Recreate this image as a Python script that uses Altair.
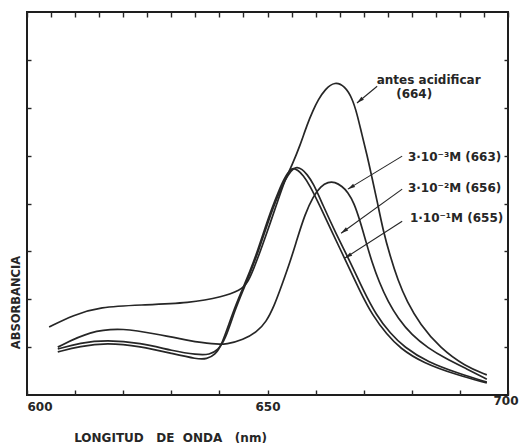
import math
import altair as alt
import pandas as pd

# ---- data (wavelength nm, absorbance) ----
nm_antes = [604.6, 609.6, 615.2, 623.5, 633.9, 640.7, 644.3, 645.9, 648.0, 649.9, 652.0, 653.6,
            655.1, 656.8, 658.2, 659.5, 660.5, 662.0, 664.0, 666.1, 667.6, 668.6, 669.6, 670.7,
            671.7, 672.8, 674.0, 675.5, 677.1, 679.0, 681.7, 685.9, 691.1, 695.6]
abs_antes = [0.142, 0.167, 0.184, 0.188, 0.192, 0.205, 0.219, 0.232, 0.286, 0.340, 0.401, 0.449,
             0.480, 0.522, 0.564, 0.595, 0.616, 0.639, 0.655, 0.645, 0.620, 0.588, 0.545, 0.501,
             0.455, 0.405, 0.345, 0.290, 0.240, 0.195, 0.148, 0.098, 0.060, 0.042]

nm_3e3 = [606.4, 613.1, 620.0, 627.0, 633.9, 638.7, 641.6, 644.9, 647.8, 649.7, 651.4, 653.0,
          654.7, 656.1, 657.8, 659.5, 661.1, 662.6, 664.0, 665.5, 666.7, 668.0, 669.2, 670.5,
          671.7, 673.2, 675.1, 677.1, 680.0, 683.4, 686.9, 691.5, 695.6]
abs_3e3 = [0.100, 0.134, 0.140, 0.127, 0.113, 0.106, 0.106, 0.115, 0.132, 0.152, 0.186, 0.230,
           0.278, 0.324, 0.378, 0.415, 0.436, 0.445, 0.445, 0.436, 0.424, 0.401, 0.365, 0.319,
           0.278, 0.236, 0.194, 0.161, 0.125, 0.098, 0.077, 0.054, 0.033]

nm_3e2 = [606.4, 611.0, 616.6, 623.5, 630.4, 635.3, 638.0, 639.7, 641.2, 643.2, 645.1, 646.8,
          648.4, 649.9, 651.4, 652.8, 654.3, 655.5, 656.1, 657.2, 658.2, 659.5, 661.5, 664.2,
          667.2, 669.9, 672.6, 675.5, 678.4, 683.2, 690.0, 695.6]
abs_3e2 = [0.096, 0.109, 0.115, 0.109, 0.092, 0.084, 0.084, 0.094, 0.115, 0.177, 0.223, 0.265,
           0.309, 0.355, 0.397, 0.432, 0.461, 0.474, 0.476, 0.472, 0.461, 0.443, 0.397, 0.338,
           0.278, 0.219, 0.167, 0.129, 0.100, 0.069, 0.044, 0.027]

nm_1e1 = [606.4, 611.0, 616.6, 623.5, 630.4, 635.3, 637.4, 639.1, 640.5, 642.8, 644.7, 646.4,
          648.0, 649.5, 650.9, 652.4, 653.6, 654.7, 655.3, 656.3, 657.4, 658.8, 660.9, 663.6,
          666.5, 669.2, 671.9, 674.8, 677.5, 682.3, 689.4, 695.6]
abs_1e1 = [0.090, 0.102, 0.109, 0.102, 0.086, 0.075, 0.075, 0.084, 0.104, 0.173, 0.219, 0.259,
           0.303, 0.349, 0.390, 0.428, 0.455, 0.470, 0.474, 0.470, 0.459, 0.438, 0.395, 0.336,
           0.276, 0.217, 0.165, 0.127, 0.098, 0.067, 0.042, 0.025]

# annotation arrows (start near label -> tip on curve)
arrow_x = [672.8, 678.0, 678.0, 678.0]
arrow_y = [0.645, 0.499, 0.430, 0.363]
arrow_x2 = [668.6, 666.7, 665.3, 666.1]
arrow_y2 = [0.610, 0.430, 0.338, 0.286]

# annotation labels
center_labels = ["antes acidificar", "(664)"]
center_x = [683.5, 680.5]
center_y = [0.658, 0.628]
left_labels = ["3·10⁻³M (663)", "3·10⁻²M (656)", "1·10⁻¹M (655)"]
left_x = [679.2, 679.2, 679.6]
left_y = [0.497, 0.432, 0.370]

x_ticks = list(range(600, 701, 5))
y_ticks = [0.1, 0.2, 0.3, 0.4, 0.5, 0.6, 0.7]

W, H = 481, 383
X_DOM = [600, 700]
Y_DOM = [0, 0.8]

rows = []
for name, xs_, ys_ in [("antes", nm_antes, abs_antes), ("3e-3", nm_3e3, abs_3e3),
                       ("3e-2", nm_3e2, abs_3e2), ("1e-1", nm_1e1, abs_1e1)]:
    for i, (a, b) in enumerate(zip(xs_, ys_)):
        rows.append({"serie": name, "nm": a, "absb": b, "ord": i})
df = pd.DataFrame(rows)

angles = []
for a, b, c, d in zip(arrow_x, arrow_y, arrow_x2, arrow_y2):
    dx = (c - a) * W / (X_DOM[1] - X_DOM[0])
    dy = -(d - b) * H / (Y_DOM[1] - Y_DOM[0])
    angles.append(math.degrees(math.atan2(dx, -dy)) % 360)
arrows = pd.DataFrame({"x": arrow_x, "y": arrow_y, "x2": arrow_x2, "y2": arrow_y2, "ang": angles})
clab = pd.DataFrame({"t": center_labels, "x": center_x, "y": center_y})
llab = pd.DataFrame({"t": left_labels, "x": left_x, "y": left_y})

xs = alt.Scale(domain=X_DOM, nice=False, zero=False)
ys = alt.Scale(domain=Y_DOM, nice=False, zero=False)
FONT = "DejaVu Sans"
INK = "#262626"
NB = "\u00a0"

x_axis = alt.Axis(
    values=x_ticks, format="d",
    labelExpr="datum.value % 50 == 0 ? datum.label : ''",
    labelAlign={"condition": [{"test": "datum.value <= 600", "value": "left"},
                              {"test": "datum.value >= 700", "value": "right"}],
                "value": "center"},
    labelOffset={"condition": {"test": "datum.value >= 700", "value": 10}, "value": 0},
    labelPadding={"condition": {"test": "datum.value >= 700", "value": 0}, "value": 6},
    offset=-5, tickSize=5, labelFont=FONT, labelFontWeight="bold",
    labelFontSize=12, labelColor=INK,
    title="LONGITUD" + NB * 3 + "DE" + NB * 2 + "ONDA" + NB * 3 + "(nm)",
    titleFont=FONT, titleFontWeight="bold", titleFontSize=12, titleColor=INK,
    titleX=143, titleY=47, titleAlign="center", titleBaseline="middle",
)
y_axis = alt.Axis(
    values=y_ticks, labels=False, offset=-4, tickSize=4,
    title="ABSORBANCIA", titleFont=FONT, titleFontWeight="bold", titleFontSize=11.5,
    titleColor=INK, titleAngle=270, titleX=-15, titleY=290, titleAlign="center",
    titleBaseline="middle",
)

base = alt.Chart(df)
lines = base.mark_line(interpolate="basis", color=INK, strokeWidth=1.7).encode(
    x=alt.X("nm:Q", scale=xs, axis=x_axis),
    y=alt.Y("absb:Q", scale=ys, axis=y_axis),
    detail="serie:N",
    order="ord:Q",
)
ghost = base.mark_line(opacity=0).encode(
    x=alt.X("nm:Q", scale=xs, axis=alt.Axis(orient="top", values=x_ticks, labels=False,
                                             offset=-5, tickSize=5, title=None)),
    y=alt.Y("absb:Q", scale=ys, axis=alt.Axis(orient="right", values=y_ticks, labels=False,
                                               offset=-4, tickSize=4, title=None)),
    detail="serie:N",
)

arrow_lines = alt.Chart(arrows).mark_rule(color=INK, strokeWidth=1.1).encode(
    x="x:Q", y="y:Q", x2="x2:Q", y2="y2:Q")
heads = alt.Chart(arrows).mark_point(
    shape="M0,0L0.5,1.9L-0.5,1.9Z", filled=True, color=INK, size=60, opacity=1
).encode(x="x2:Q", y="y2:Q", angle=alt.Angle("ang:Q", scale=None))

ctext = alt.Chart(clab).mark_text(font=FONT, fontWeight="bold", fontSize=12, color=INK,
                                  align="center", baseline="middle").encode(
    x="x:Q", y="y:Q", text="t:N")
ltext = alt.Chart(llab).mark_text(font=FONT, fontWeight="bold", fontSize=12, color=INK,
                                  align="left", baseline="middle").encode(
    x="x:Q", y="y:Q", text="t:N")

main = alt.layer(lines, arrow_lines, heads, ctext, ltext)
chart = alt.layer(main, ghost).resolve_axis(x="independent", y="independent").properties(
    width=W, height=H,
    autosize=alt.AutoSizeParams(type="none"),
    padding={"left": 27, "top": 12, "right": 11, "bottom": 48},
    background="white",
).configure_view(stroke="#1e1e1e", strokeWidth=2).configure_axis(
    grid=False, domain=False, tickColor=INK, tickWidth=1.4,
)

chart.save("out.html", embed_options={"renderer": "svg", "actions": False})
